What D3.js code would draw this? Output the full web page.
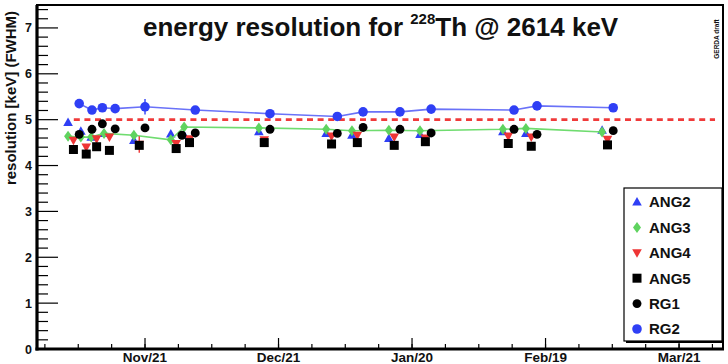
<!DOCTYPE html>
<html>
<head>
<meta charset="utf-8">
<script src="https://cdn.jsdelivr.net/npm/d3@7"></script>
<style>
  html, body { margin: 0; padding: 0; background: #fff; }
  svg { display: block; font-family: "Liberation Sans", Arial, Helvetica, sans-serif; }
</style>
</head>
<body>
<svg id="chart" width="728" height="364"></svg>
<script>
// Calibration runs (start of each run, UTC)
const runDates = [
  "2018-11-03T17:00", "2018-11-06T14:00", "2018-11-08T22:00", "2018-11-11T19:00",
  "2018-11-18T12:00", "2018-11-26T19:00", "2018-11-29T19:00", "2018-12-16T14:00",
  "2018-12-31T17:00", "2019-01-06T12:00", "2019-01-14T19:00", "2019-01-21T19:00",
  "2019-02-09T10:00", "2019-02-14T14:00", "2019-03-03T17:00"
];

// FWHM at 2614 keV per detector, one value per run (null = no result)
const ang2 = [4.94, 4.75, 4.62, 4.70, 4.55, 4.69, 4.66, 4.74, 4.70, 4.66, 4.59, 4.68, 4.74, 4.70, 4.77];
const ang3 = [4.64, 4.62, 4.62, 4.70, 4.66, 4.56, 4.84, 4.82, 4.79, 4.76, 4.77, 4.76, 4.79, 4.81, 4.73];
const ang4 = [4.55, 4.40, 4.58, 4.62, 4.46, 4.48, 4.58, 4.56, 4.64, 4.66, 4.62, 4.60, 4.64, 4.62, 4.57];
const ang5 = [4.35, 4.25, 4.41, 4.33, 4.44, 4.37, 4.50, 4.50, 4.47, 4.50, 4.44, 4.52, 4.48, 4.42, 4.45];
const rg1  = [4.68, 4.79, 4.91, 4.80, 4.82, 4.66, 4.71, 4.79, 4.70, 4.83, 4.79, 4.71, 4.79, 4.68, 4.76];
const rg2  = [5.35, 5.21, 5.26, 5.24, 5.28, null, 5.21, 5.13, 5.07, 5.17, 5.17, 5.23, 5.21, 5.30, 5.26];

// Uncertainties (keV)
const ang4Err = [0.06, 0.07, 0.04, 0.04, 0.18, 0.04, 0.04, 0.04, 0.04, 0.04, 0.04, 0.04, 0.04, 0.04, 0.04];
const rg2Err  = [0.05, 0.04, 0.04, 0.04, 0.17, 0, 0.04, 0.03, 0.03, 0.03, 0.03, 0.03, 0.03, 0.03, 0.03];

// Time shift of each detector's measurement within a run (hours)
const shiftHours = { ANG2: 0, ANG3: 0, ANG4: 29, ANG5: 29, RG1: 60, RG2: 60 };

// Axis labels
const monthTicks = ["2018-11-21", "2018-12-21", "2019-01-20", "2019-02-19", "2019-03-21"];
const monthLabels = ["Nov/21", "Dec/21", "Jan/20", "Feb/19", "Mar/21"];
const yTicks = [0, 1, 2, 3, 4, 5, 6, 7];

// Reference limit
const limitValue = 5.0;
const limitSpan = ["2018-11-05T00:00", "2019-03-29T02:00"];

const timeDomain = ["2018-10-27T17:30", "2019-03-30T21:00"];
const valueDomain = [0, 7.5];

const parse = s => new Date(s + (s.length === 10 ? "T00:00Z" : "Z"));
const HOUR = 3600 * 1000, DAY = 24 * HOUR;

const svg = d3.select("#chart");
const pLeft = 37, pRight = 723, pTop = 5, pBottom = 349;

const x = d3.scaleUtc().domain(timeDomain.map(parse)).range([pLeft, pRight]);
const y = d3.scaleLinear().domain(valueDomain).range([pBottom, pTop]);

// Series definitions
const series = [
  { name: "ANG2", values: ang2, color: "#2f3ff5", shape: "triUp" },
  { name: "ANG3", values: ang3, color: "#5fd35f", shape: "diamond", line: "#6fdc6f" },
  { name: "ANG4", values: ang4, color: "#ee3535", shape: "triDown", err: ang4Err },
  { name: "ANG5", values: ang5, color: "#000000", shape: "square" },
  { name: "RG1",  values: rg1,  color: "#000000", shape: "circle" },
  { name: "RG2",  values: rg2,  color: "#2f3ff5", shape: "circleL", line: "#6a72f8", err: rg2Err }
];

function markerPath(shape) {
  switch (shape) {
    case "triUp":   return "M0,-5 L4.8,3.6 L-4.8,3.6 Z";
    case "triDown": return "M0,5 L4.8,-3.6 L-4.8,-3.6 Z";
    case "diamond": return "M0,-5.5 L4,0 L0,5.5 L-4,0 Z";
    case "square":  return "M-4.5,-4.5 H4.5 V4.5 H-4.5 Z";
    case "circle":  return d3.symbol(d3.symbolCircle, 62)();
    case "circleL": return d3.symbol(d3.symbolCircle, 72)();
  }
}

// Minor time ticks every quarter month-interval
const t0 = parse(monthTicks[0]);
const minorTimes = d3.range(-3, 18).map(k => new Date(+t0 + k * 7.5 * DAY))
  .filter(d => x(d) >= pLeft && x(d) <= pRight);

// X axis ticks
const gx = svg.append("g");
gx.selectAll("line.minor").data(minorTimes).join("line")
  .attr("x1", d => x(d)).attr("x2", d => x(d))
  .attr("y1", pBottom).attr("y2", pBottom - 5)
  .attr("stroke", "#000").attr("stroke-width", 1.2);
gx.selectAll("line.major").data(monthTicks.map(parse)).join("line")
  .attr("x1", d => x(d)).attr("x2", d => x(d))
  .attr("y1", pBottom).attr("y2", pBottom - 11)
  .attr("stroke", "#000").attr("stroke-width", 1.2);
gx.selectAll("text").data(monthTicks.map(parse)).join("text")
  .attr("x", d => x(d)).attr("y", 362)
  .attr("text-anchor", "middle")
  .attr("font-size", 13.5).attr("font-weight", "bold").attr("fill", "#111")
  .text((d, i) => monthLabels[i]);

// Y axis ticks
const yMinor = d3.range(0, 7.5001, 0.2).filter(v => Math.abs(v - Math.round(v)) > 1e-6);
const gy = svg.append("g");
gy.selectAll("line.minor").data(yMinor).join("line")
  .attr("x1", pLeft).attr("x2", pLeft + 11)
  .attr("y1", d => y(d)).attr("y2", d => y(d))
  .attr("stroke", "#000").attr("stroke-width", 1.2);
gy.selectAll("line.major").data(yTicks).join("line")
  .attr("x1", pLeft).attr("x2", pLeft + 21)
  .attr("y1", d => y(d)).attr("y2", d => y(d))
  .attr("stroke", "#000").attr("stroke-width", 1.2);
gy.selectAll("text").data(yTicks).join("text")
  .attr("x", 32).attr("y", d => y(d)).attr("dy", "0.36em")
  .attr("text-anchor", "end")
  .attr("font-size", 12.5).attr("font-weight", "bold").attr("fill", "#111")
  .text(d => d);

// Frame
svg.append("rect").attr("x", pLeft).attr("y", pTop)
  .attr("width", pRight - pLeft).attr("height", pBottom - pTop)
  .attr("fill", "none").attr("stroke", "#000").attr("stroke-width", 2);
svg.append("line").attr("x1", pLeft).attr("x2", pLeft).attr("y1", pTop).attr("y2", pBottom + 1.5)
  .attr("stroke", "#000").attr("stroke-width", 3.2);
svg.append("line").attr("x1", pLeft - 1.5).attr("x2", pRight + 1).attr("y1", pBottom).attr("y2", pBottom)
  .attr("stroke", "#000").attr("stroke-width", 3.2);

// Limit line at 5 keV
svg.append("line")
  .attr("x1", x(parse(limitSpan[0]))).attr("x2", x(parse(limitSpan[1])))
  .attr("y1", y(limitValue)).attr("y2", y(limitValue))
  .attr("stroke", "#f03a3a").attr("stroke-width", 2.6)
  .attr("stroke-dasharray", "6,4.6");

// Data
const plot = svg.append("g");
series.forEach(s => {
  const pts = s.values.map((v, i) => ({
    t: new Date(+parse(runDates[i]) + shiftHours[s.name] * HOUR),
    v, e: s.err ? s.err[i] : 0
  })).filter(p => p.v !== null);

  if (s.line) {
    plot.append("path").datum(pts)
      .attr("fill", "none").attr("stroke", s.line).attr("stroke-width", 1.6)
      .attr("d", d3.line().x(p => x(p.t)).y(p => y(p.v)));
  }
  if (s.err) {
    plot.selectAll(null).data(pts.filter(p => p.e > 0)).join("line")
      .attr("x1", p => x(p.t)).attr("x2", p => x(p.t))
      .attr("y1", p => y(p.v - p.e)).attr("y2", p => y(p.v + p.e))
      .attr("stroke", s.color).attr("stroke-width", 1.4);
  }
  plot.selectAll(null).data(pts).join("path")
    .attr("transform", p => `translate(${x(p.t)},${y(p.v)})`)
    .attr("d", markerPath(s.shape))
    .attr("fill", s.color);
});

// Title
const title = svg.append("text").attr("x", 143).attr("y", 36)
  .attr("font-size", 26).attr("font-weight", "bold").attr("fill", "#111");
title.append("tspan").text("energy resolution for ");
title.append("tspan").attr("font-size", 15).attr("dy", -12).text("228");
title.append("tspan").attr("dy", 12).text("Th @ 2614 keV");

// Y axis title
svg.append("text")
  .attr("transform", "translate(16,98) rotate(-90)")
  .attr("text-anchor", "middle")
  .attr("font-size", 15).attr("font-weight", "bold").attr("fill", "#111")
  .text("resolution [keV] (FWHM)");

// Watermark
svg.append("text")
  .attr("transform", "translate(719,39) rotate(-90)")
  .attr("text-anchor", "middle")
  .attr("font-size", 6.5).attr("font-weight", "bold").attr("fill", "#111")
  .text("GERDA draft");

// Legend
const lgX = 624, lgY = 188, lgW = 98, lgH = 153;
svg.append("rect").attr("x", lgX + 2).attr("y", lgY + 2).attr("width", lgW).attr("height", lgH)
  .attr("fill", "#000");
svg.append("rect").attr("x", lgX).attr("y", lgY).attr("width", lgW).attr("height", lgH)
  .attr("fill", "#fff").attr("stroke", "#000").attr("stroke-width", 1.2);
const rowY = d3.scalePoint().domain(series.map(s => s.name)).range([202, 329]);
const lg = svg.append("g");
lg.selectAll("path").data(series).join("path")
  .attr("transform", s => `translate(637,${rowY(s.name)})`)
  .attr("d", s => markerPath(s.shape))
  .attr("fill", s => s.color);
lg.selectAll("text").data(series).join("text")
  .attr("x", 649).attr("y", s => rowY(s.name)).attr("dy", "0.36em")
  .attr("font-size", 15).attr("font-weight", "bold").attr("fill", "#111")
  .text(s => s.name);
</script>
</body>
</html>
